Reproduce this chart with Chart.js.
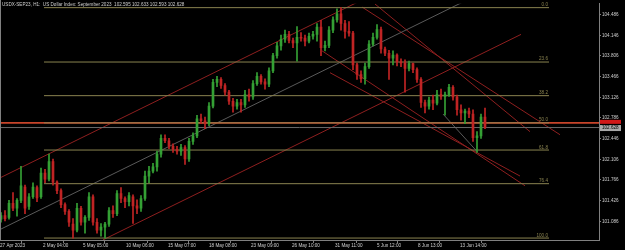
<!DOCTYPE html>
<html>
<head>
<meta charset="utf-8">
<script src="https://cdn.jsdelivr.net/npm/chart.js@4"></script>
<style>
  html, body { margin: 0; padding: 0; background: #000; }
  #wrap { width: 625px; height: 250px; position: relative; }
</style>
</head>
<body>
<div id="wrap"><canvas id="grafico"></canvas></div>
<script>
// USDX-SEP23 H1
const opens  = [101.12,101.18,101.15,101.38,101.30,101.43,101.65,101.33,101.49,101.64,101.49,101.88,101.78,102.07,101.73,101.59,101.36,101.25,101.04,100.94,
                101.30,101.07,101.15,101.49,101.07,100.94,100.99,101.04,101.26,101.21,101.54,101.46,101.41,101.49,101.34,101.30,101.46,101.83,101.91,101.98,
                102.19,102.45,102.41,102.32,102.27,102.24,102.30,102.11,102.40,102.49,102.77,102.74,102.69,102.98,103.37,103.42,103.32,103.21,103.06,102.98,
                103.04,103.00,103.17,103.13,103.35,103.47,103.38,103.34,103.56,103.81,103.97,104.08,104.16,104.06,104.02,104.11,104.10,104.05,104.13,104.16,
                104.28,103.94,103.98,104.23,104.40,104.50,104.34,104.21,104.18,103.66,103.50,103.43,103.63,104.00,104.11,104.24,103.92,103.85,103.77,103.82,
                103.71,103.69,103.60,103.68,103.58,103.42,103.04,102.98,103.08,103.03,103.17,103.14,103.17,103.29,103.13,102.92,102.87,102.90,102.85,102.46,
                102.49,102.80];
const highs  = [101.23,101.26,101.43,101.56,101.46,101.99,101.68,101.54,101.72,101.67,101.96,101.94,102.19,102.11,101.75,101.62,101.39,101.28,101.13,101.38,
                101.33,101.18,101.56,101.52,101.13,101.05,101.07,101.31,101.34,101.59,101.64,101.49,101.56,101.52,101.44,101.51,101.91,101.99,102.04,102.24,
                102.51,102.51,102.45,102.36,102.32,102.35,102.33,102.45,102.54,102.83,102.85,102.80,103.04,103.42,103.47,103.45,103.35,103.24,103.11,103.09,
                103.09,103.24,103.26,103.40,103.53,103.50,103.43,103.61,103.85,104.03,104.15,104.23,104.21,104.10,104.29,104.19,104.15,104.18,104.21,104.34,
                104.39,104.05,104.29,104.45,104.58,104.60,104.39,104.37,104.21,103.69,103.56,103.69,104.06,104.18,104.32,104.28,103.95,103.90,103.89,103.84,
                103.76,103.74,103.72,103.69,103.61,103.45,103.08,103.13,103.16,103.24,103.26,103.21,103.34,103.32,103.16,103.00,102.93,102.95,102.92,102.56,
                102.85,102.95];
const lows   = [101.07,101.09,101.12,101.26,101.17,101.39,101.21,101.28,101.46,101.41,101.46,101.72,101.75,101.68,101.54,101.31,101.20,101.00,100.81,100.91,
                101.02,100.89,101.10,101.02,100.89,100.84,100.81,101.00,101.15,101.18,101.39,101.31,101.34,101.05,101.21,101.25,101.43,101.72,101.88,101.91,
                102.14,102.38,102.28,102.22,102.19,102.17,102.02,102.07,102.35,102.46,102.69,102.61,102.66,102.95,103.30,103.27,103.16,103.01,102.88,102.93,
                102.88,102.96,103.06,103.09,103.32,103.34,103.26,103.30,103.53,103.77,103.90,104.03,104.02,103.94,103.72,104.05,103.97,104.02,104.08,104.05,
                103.81,103.89,103.94,104.19,104.36,104.23,104.10,104.13,103.58,103.42,103.37,103.34,103.60,103.97,104.08,103.85,103.81,103.42,103.66,103.64,
                103.63,103.21,103.56,103.53,103.37,102.96,102.87,102.93,102.92,103.00,103.09,102.83,103.14,103.08,102.83,102.75,102.69,102.79,102.40,102.22,
                102.45,102.61];
const closes = [101.18,101.13,101.38,101.30,101.43,101.67,101.30,101.49,101.65,101.47,101.88,101.78,102.07,101.73,101.59,101.36,101.25,101.07,100.94,101.30,
                101.07,101.15,101.49,101.07,100.94,100.99,101.04,101.26,101.21,101.54,101.46,101.41,101.51,101.34,101.30,101.46,101.83,101.91,101.98,102.19,
                102.45,102.41,102.32,102.27,102.24,102.30,102.11,102.40,102.49,102.77,102.74,102.69,102.98,103.37,103.42,103.32,103.21,103.06,102.98,103.04,
                103.00,103.17,103.13,103.35,103.47,103.38,103.34,103.56,103.81,103.97,104.08,104.16,104.06,104.02,104.11,104.10,104.05,104.13,104.16,104.28,
                103.94,103.98,104.23,104.40,104.50,104.34,104.21,104.18,103.66,103.50,103.43,103.63,104.00,104.11,104.24,103.92,103.85,103.77,103.82,103.71,
                103.69,103.60,103.68,103.58,103.42,103.04,102.98,103.08,103.03,103.17,103.14,103.17,103.29,103.13,102.92,102.87,102.90,102.85,102.46,102.49,
                102.80,102.628];

const priceTicks = [101.086,101.426,101.766,102.106,102.446,102.786,103.126,103.466,103.806,104.146,104.486];
const timeLabels = ['27 Apr 2023','2 May 04:00','5 May 05:00','10 May 06:00','15 May 07:00','18 May 08:00',
                    '23 May 09:00','26 May 10:00','31 May 11:00','5 Jun 12:00','8 Jun 13:00','13 Jun 14:00'];
const timeTickBars = [-0.25,10.5,20.5,31.25,41.75,52,62.5,72.75,83.5,94,104.25,114.75];

// Fibonacci
const fibHigh = 104.60, fibLow = 100.81;
const fibLevels = [0, 23.6, 38.2, 50.0, 61.8, 76.4, 100.0];
const fibBars = [10.75, 137];

// lineas horizontales
const redLinePrice = 102.705;
const bidPrice = 102.628;

// lineas de tendencia [barra, precio]
const trendUpper = [[-0.25,101.80],[89.75,104.71]];
const trendMid   = [[-0.25,100.95],[117.25,104.75]];
const trendLower = [[25.5,100.78],[130,104.16]];
const trendShort = [[110.5,102.85],[119,102.235]];
const downLines  = [
  [[90.25,104.61],[139.75,102.51]],
  [[93.5,104.66],[132.25,102.56]],
  [[80.25,103.89],[131,101.67]],
  [[82.25,103.53],[129.75,101.83]]
];

const verde = '#34a034';
const rojo = '#c02424';
const rojoOscuro = '#8e1f1f';
const oliva = '#8a8350';

const colores = closes.map((c, i) => c >= opens[i] ? verde : rojo);
const mechas = closes.map((c, i) => ({ x: i, y: [lows[i], highs[i]] }));
const cuerpos = closes.map((c, i) => {
  let a = opens[i], b = c;
  if (Math.abs(a - b) < 0.006) b = a + 0.006;
  return { x: i, y: [a, b] };
});

function segmento(p, color, width) {
  return {
    type: 'line',
    data: [{ x: p[0][0], y: p[0][1] }, { x: p[1][0], y: p[1][1] }],
    borderColor: color, borderWidth: width || 1,
    pointRadius: 0, fill: false, tension: 0, order: 5
  };
}

const xMin = -0.25, xMax = 149.5;
const lineas = [];
fibLevels.forEach(l => {
  const p = fibHigh - (fibHigh - fibLow) * l / 100;
  lineas.push(segmento([[fibBars[0], p], [fibBars[1], p]], oliva, 1));
});
lineas.push(segmento([[xMin, bidPrice], [xMax, bidPrice]], '#6a6a6a', 1));
lineas.push(segmento([[xMin, redLinePrice], [xMax, redLinePrice]], '#c8442a', 1.6));
lineas.push(segmento(trendUpper, rojoOscuro, 1));
lineas.push(segmento(trendMid, '#5a5a5a', 1));
lineas.push(segmento(trendLower, rojoOscuro, 1));
lineas.push(segmento(trendShort, '#5a5a5a', 1));
downLines.forEach(d => lineas.push(segmento(d, rojoOscuro, 1)));

const fuente = '"Liberation Sans", Arial, sans-serif';

const extras = {
  id: 'extras',
  afterDraw(chart) {
    const ctx = chart.ctx;
    const xs = chart.scales.x, ys = chart.scales.y;
    const area = chart.chartArea;
    ctx.save();
    // marco izquierdo
    ctx.strokeStyle = '#808080';
    ctx.lineWidth = 1;
    ctx.beginPath();
    ctx.moveTo(0.5, 0); ctx.lineTo(0.5, area.bottom);
    ctx.stroke();
    // etiquetas fibonacci
    ctx.font = '4.6px ' + fuente;
    ctx.fillStyle = oliva;
    ctx.textAlign = 'right';
    ctx.textBaseline = 'bottom';
    fibLevels.forEach(l => {
      const p = fibHigh - (fibHigh - fibLow) * l / 100;
      ctx.fillText(l.toFixed(1), xs.getPixelForValue(fibBars[1]) - 1, ys.getPixelForValue(p) - 0.5);
    });
    // titulo
    ctx.textAlign = 'left';
    ctx.textBaseline = 'middle';
    ctx.fillStyle = '#d0d0d0';
    ctx.fillText('USDX-SEP23, H1:  US Dollar Index: September 2023  102.595 102.633 102.593 102.628', 2, 5);
    // etiquetas de precio en el eje
    const yr = ys.getPixelForValue(redLinePrice);
    ctx.fillStyle = '#d01818';
    ctx.fillRect(area.right + 1, yr - 3, 21, 4);
    const yb = ys.getPixelForValue(bidPrice);
    ctx.fillStyle = '#a8a8a8';
    ctx.fillRect(area.right + 1, yb - 2.5, 21, 6);
    ctx.fillStyle = '#000';
    ctx.fillText(bidPrice.toFixed(3), area.right + 3, yb + 0.5);
    ctx.restore();
  }
};

new Chart(document.getElementById('grafico'), {
  type: 'bar',
  data: {
    datasets: [
      { data: mechas, backgroundColor: colores, barThickness: 1, grouped: false, order: 2 },
      { data: cuerpos, backgroundColor: colores, barThickness: 2, grouped: false, order: 1 },
      ...lineas
    ]
  },
  options: {
    responsive: true,
    maintainAspectRatio: false,
    animation: false,
    layout: { padding: 0 },
    plugins: { legend: { display: false }, tooltip: { enabled: false } },
    scales: {
      x: {
        type: 'linear', min: xMin, max: xMax, position: 'bottom', offset: false,
        grid: { display: true, drawOnChartArea: false, drawTicks: true, tickLength: 3, color: '#808080' },
        border: { display: true, color: '#808080' },
        afterBuildTicks: s => { s.ticks = timeTickBars.map(v => ({ value: v })); },
        afterFit: s => { s.height = 10; },
        ticks: {
          autoSkip: false, maxRotation: 0, minRotation: 0, align: 'start', padding: 0,
          color: '#cfcfcf', font: { size: 4.6, family: fuente },
          callback: (v, i) => timeLabels[i]
        }
      },
      y: {
        position: 'right', min: 100.778, max: 104.664,
        grid: { display: true, drawOnChartArea: false, drawTicks: true, tickLength: 2, color: '#808080' },
        border: { display: true, color: '#808080' },
        afterBuildTicks: s => { s.ticks = priceTicks.map(v => ({ value: v })); },
        afterFit: s => { s.width = 26; },
        ticks: {
          padding: 1, color: '#cfcfcf', font: { size: 4.6, family: fuente },
          callback: v => v.toFixed(3)
        }
      }
    }
  },
  plugins: [extras]
});
</script>
</body>
</html>
